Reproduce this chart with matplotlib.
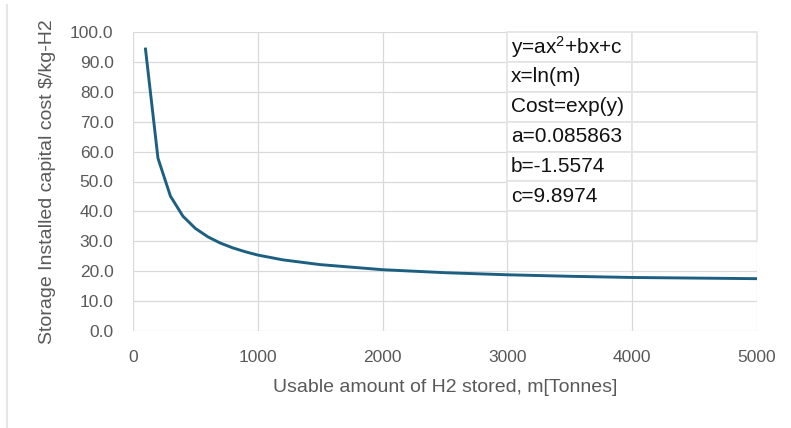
import matplotlib
matplotlib.use('Agg')
import matplotlib.pyplot as plt
from matplotlib.patches import Rectangle
from matplotlib.lines import Line2D

# values (usable H2 stored, tonnes -> $/kg-H2)
mass = [100, 200, 300, 400, 500, 600, 700, 800, 900, 1000,
        1200, 1500, 2000, 2500, 3000, 3500, 4000, 4500, 5000]
cost = [94.3, 57.8, 45.1, 38.4, 34.3, 31.5, 29.4, 27.8, 26.5, 25.4,
        23.8, 22.2, 20.5, 19.5, 18.8, 18.3, 17.9, 17.7, 17.5]

x_ticks = [0, 1000, 2000, 3000, 4000, 5000]
y_ticks = [0, 10, 20, 30, 40, 50, 60, 70, 80, 90, 100]

fit_lines = ['y=ax$^{2}$+bx+c', 'x=ln(m)', 'Cost=exp(y)',
             'a=0.085863', 'b=-1.5574', 'c=9.8974', '']

plt.rcParams['font.family'] = ['Liberation Sans', 'DejaVu Sans']
plt.rcParams['mathtext.fontset'] = 'custom'
plt.rcParams['mathtext.rm'] = 'Liberation Sans'
plt.rcParams['mathtext.it'] = 'Liberation Sans'

grey = '#595959'
grid_c = '#d9d9d9'

fig = plt.figure(figsize=(7.91, 4.28), dpi=100)
ax = fig.add_axes([133 / 791, 1 - 331 / 428, 624 / 791, 299 / 428])

ax.plot(mass, cost, color='#1d5f80', lw=2.1, zorder=3)

ax.set_xlim(0, 5000)
ax.set_ylim(0, 100)
ax.set_xticks(x_ticks)
ax.set_yticks(y_ticks)
ax.set_yticklabels([f'{v:.1f}' for v in y_ticks])
ax.tick_params(length=0, labelsize=12.5, colors=grey)
ax.tick_params(axis='y', pad=14)
ax.tick_params(axis='x', pad=14)
ax.grid(True, color=grid_c, lw=0.9)
ax.set_axisbelow(True)
for s in ax.spines.values():
    s.set_visible(False)

ax.set_xlabel('Usable amount of H2 stored, m[Tonnes]', fontsize=14, color=grey, labelpad=10)
ax.set_ylabel('Storage Installed capital cost $/kg-H2', fontsize=14, color=grey, labelpad=10)

# pasted spreadsheet cells with the fit equation
row_h = 10
for i, txt in enumerate(fit_lines):
    top = 100 - i * row_h
    for col in (3000, 4000):
        ax.add_patch(Rectangle((col, top - row_h), 1000, row_h, facecolor='white',
                               edgecolor='#e3e3e3', lw=1.2, zorder=4, clip_on=False))
    ax.text(3030, top - row_h / 2, txt, fontsize=15, color='#111111',
            va='center', ha='left', zorder=5)

# left frame line
fig.add_artist(Line2D([7 / 791, 7 / 791], [0, 1 - 5 / 428], color='#e6e6e6', lw=1.5))

fig.savefig('out.png', dpi=100)
